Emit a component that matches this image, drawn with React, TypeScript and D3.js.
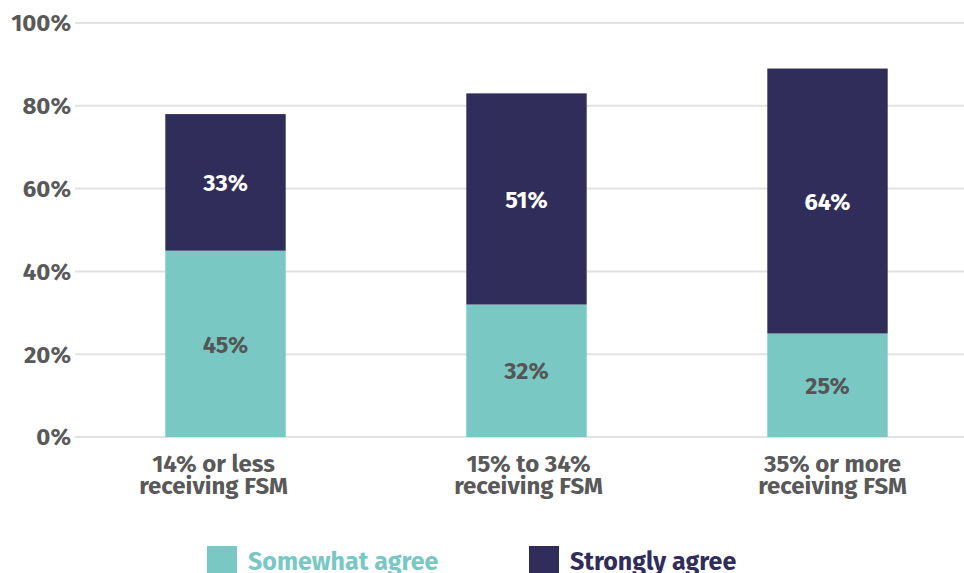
import React from "react";
import * as d3 from "d3";

const categories = ["14% or less|receiving FSM", "15% to 34%|receiving FSM", "35% or more|receiving FSM"];
const somewhatAgree = [45, 32, 25];
const stronglyAgree = [33, 51, 64];
const yTicks = [0, 20, 40, 60, 80, 100];
const seriesNames = ["Somewhat agree", "Strongly agree"];
const labelShift = [-12, 2, 5];

const W = 964;
const H = 573;
const TEAL = "#7AC8C4";
const NAVY = "#312D5A";
const FONT = "'Fira Sans', 'Noto Sans', 'Open Sans', sans-serif";

export default function App() {
  const x = d3.scaleBand<string>().domain(categories).range([75, 978]).paddingInner(0.6).paddingOuter(0.3);
  const y = d3.scaleLinear().domain([0, 100]).range([437, 23]);

  return (
    <svg width={W} height={H} style={{ position: "absolute", left: 0, top: 0 }} fontFamily={FONT}>
      <rect width={W} height={H} fill="#fff" />
      {yTicks.map((t) => (
        <g key={t}>
          <line x1={75} x2={W} y1={y(t)} y2={y(t)} stroke="#e2e2e2" strokeWidth={2} />
          <text x={71} y={y(t) + 2} textAnchor="end" dominantBaseline="middle" fontSize={24} fontWeight={700} fill="#595959">
            {t}%
          </text>
        </g>
      ))}
      {categories.map((c, i) => {
        const x0 = x(c)!;
        const bw = x.bandwidth();
        const s = somewhatAgree[i];
        const g = stronglyAgree[i];
        const [l1, l2] = c.split("|");
        const cx = x0 + bw / 2 + labelShift[i];
        return (
          <g key={c}>
            <rect x={x0} width={bw} y={y(s)} height={y(0) - y(s)} fill={TEAL} />
            <rect x={x0} width={bw} y={y(s + g)} height={y(s) - y(s + g)} fill={NAVY} />
            <text x={x0 + bw / 2} y={(y(0) + y(s)) / 2 + 2.5} textAnchor="middle" dominantBaseline="middle" fontSize={23.5} fontWeight={700} fill="#555">
              {s}%
            </text>
            <text x={x0 + bw / 2} y={(y(s) + y(s + g)) / 2 + 2.5} textAnchor="middle" dominantBaseline="middle" fontSize={23.5} fontWeight={700} fill="#fff">
              {g}%
            </text>
            <text x={cx} y={472} textAnchor="middle" fontSize={24} fontWeight={700} fill="#595959">
              {l1}
            </text>
            <text x={cx} y={494} textAnchor="middle" fontSize={24} fontWeight={700} fill="#595959">
              {l2}
            </text>
          </g>
        );
      })}
      {seriesNames.map((n, i) => {
        const lx = [207, 529][i];
        const col = [TEAL, NAVY][i];
        return (
          <g key={n}>
            <rect x={lx} y={546} width={30} height={30} fill={col} />
            <text x={lx + 41} y={570} fontSize={25} fontWeight={700} fill={col}>
              {n}
            </text>
          </g>
        );
      })}
    </svg>
  );
}
